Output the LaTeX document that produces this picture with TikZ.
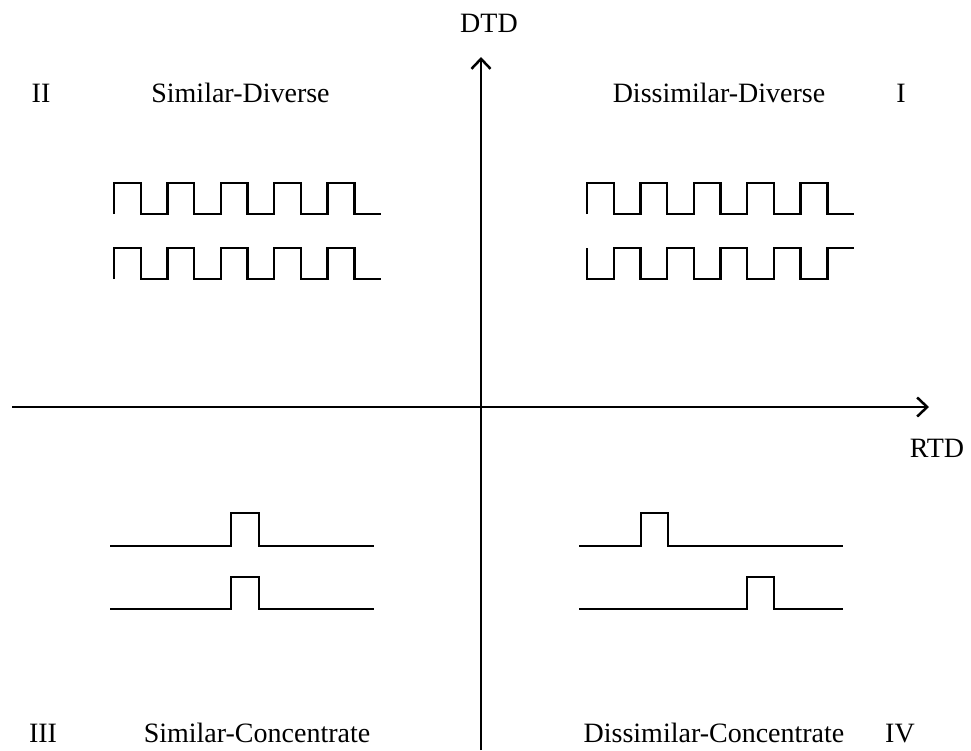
\documentclass[tikz,border=0pt]{standalone}
\usepackage{fontspec}
\setmainfont{Liberation Serif}
\usetikzlibrary{arrows.meta}
\begin{document}
\begin{tikzpicture}[x=1pt,y=-1pt,
  axis/.style={line width=2.5pt,-{Straight Barb[length=10pt,width=19pt,line width=2.5pt]}},
  wave/.style={line width=2.4pt,line join=miter},
  lbl/.style={anchor=base,inner sep=0pt,font=\fontsize{28}{34}\selectfont}]
\fill[white] (0,0) rectangle (971,750);
\useasboundingbox (0,0) rectangle (971,750);
% axes
\coordinate (ybot) at (481,750);
\coordinate (ytop) at (481,57);
\coordinate (xl) at (12,407);
\coordinate (xr) at (929,407);
\draw[axis] (ybot) -- (ytop);
\draw[axis] (xl) -- (xr);
% axis labels
\node[lbl] (dtd) at (489,32) {DTD};
\node[lbl] (rtd) at (937,457) {RTD};
% quadrant labels
\node[lbl] (q2) at (41,102) {II};
\node[lbl] (q2t) at (240.5,102) {Similar-Diverse};
\node[lbl] (q1t) at (719,102) {Dissimilar-Diverse};
\node[lbl] (q1) at (901,102) {I};
\node[lbl] (q3) at (43,742) {III};
\node[lbl] (q3t) at (257,742) {Similar-Concentrate};
\node[lbl] (q4t) at (714,742) {Dissimilar-Concentrate};
\node[lbl] (q4) at (900,742) {IV};
% Quadrant II waves
\draw[wave] (114,214) \foreach \i in {1,...,5} { -- ++(0,-31) -- ++(26.7,0) -- ++(0,31) -- ++(26.7,0) };
\draw[wave] (114,279) \foreach \i in {1,...,5} { -- ++(0,-31) -- ++(26.7,0) -- ++(0,31) -- ++(26.7,0) };
% Quadrant I waves
\draw[wave] (587,214) \foreach \i in {1,...,5} { -- ++(0,-31) -- ++(26.7,0) -- ++(0,31) -- ++(26.7,0) };
\draw[wave] (587,248) \foreach \i in {1,...,5} { -- ++(0,31) -- ++(26.7,0) -- ++(0,-31) -- ++(26.7,0) };
% Quadrant III pulses
\draw[wave] (110,546) -- (231,546) -- (231,513) -- (259,513) -- (259,546) -- (374,546);
\draw[wave] (110,609) -- (231,609) -- (231,577) -- (259,577) -- (259,609) -- (374,609);
% Quadrant IV pulses
\draw[wave] (579,546) -- (641,546) -- (641,513) -- (668,513) -- (668,546) -- (843,546);
\draw[wave] (579,609) -- (747,609) -- (747,577) -- (774,577) -- (774,609) -- (843,609);
\end{tikzpicture}
\end{document}
